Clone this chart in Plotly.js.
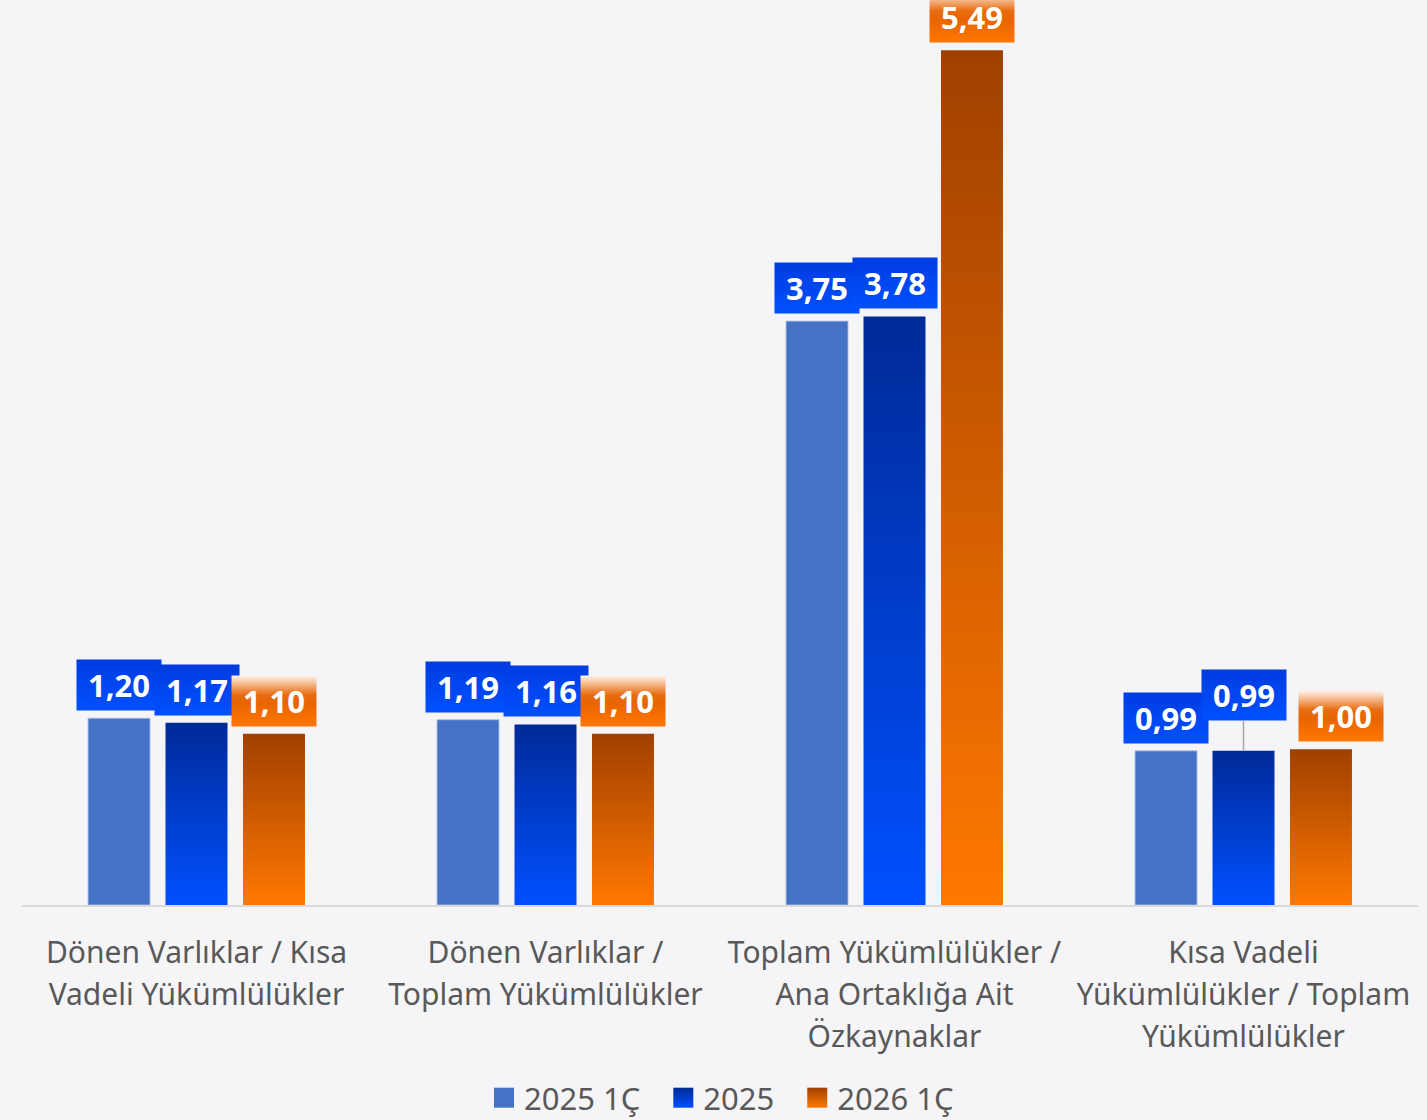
<!DOCTYPE html>
<html>
<head>
<meta charset="utf-8">
<script src="https://cdn.plot.ly/plotly-3.0.1.min.js"></script>
<style>
  html, body { margin: 0; padding: 0; background: #f5f5f7; }
  #chart { width: 1427px; height: 1120px; }
</style>
</head>
<body>
<div id="chart"></div>
<script>
// ---- data ----
const categories = [
  "Dönen Varlıklar / Kısa<br>Vadeli Yükümlülükler",
  "Dönen Varlıklar /<br>Toplam Yükümlülükler",
  "Toplam Yükümlülükler /<br>Ana Ortaklığa Ait<br>Özkaynaklar",
  "Kısa Vadeli<br>Yükümlülükler / Toplam<br>Yükümlülükler"
];
const seriesNames = ["2025 1Ç", "2025", "2026 1Ç"];
const values2025Q1 = [1.20, 1.19, 3.75, 0.99];
const values2025 = [1.17, 1.16, 3.78, 0.99];
const values2026Q1 = [1.10, 1.10, 5.49, 1.00];

// ---- styles ----
const seriesValues = [values2025Q1, values2025, values2026Q1];
const baseColors = ["#4472c4", "#0040e0", "#e06000"];
const labelGrad = ["lblBlue", "lblBlue", "lblOrange"];
const barGrad = [null, "gBlue", "gOrange"];
const groupPitchPx = 77.5;
const legendExtraGap = 18;
const legendShift = -10;
const tickLineSpacing = 1.4;
// special label adjustments: [seriesIndex, categoryIndex] -> options
const labelTweaks = { "1_3": { ay: -30 }, "2_3": { dx: 20 } };

const fmt = v => v.toFixed(2).replace(".", ",");

const traces = seriesValues.map((vals, s) => ({
  type: "bar",
  name: seriesNames[s],
  x: categories,
  y: vals,
  marker: {
    color: baseColors[s],
    line: s === 0 ? { color: "rgba(170,190,235,0.9)", width: 1 } : { width: 0 }
  },
  hoverinfo: "none"
}));

const annotations = [];
const annGrads = [];
seriesValues.forEach((vals, s) => {
  vals.forEach((v, c) => {
    const tw = labelTweaks[s + "_" + c] || {};
    const a = {
      x: categories[c],
      y: v,
      xref: "x",
      yref: "y",
      text: "<b>" + fmt(v) + "</b>",
      font: { family: "Noto Sans, sans-serif", size: 31, color: "#ffffff" },
      bgcolor: s === 2 ? "#e86a00" : "#0046f0",
      borderpad: 7,
      width: 70,
      height: 36,
      xanchor: "center",
      yanchor: "bottom",
      xshift: (s - 1) * groupPitchPx + (tw.dx || 0),
      showarrow: false,
      yshift: 7
    };
    if (tw.ay) {
      a.showarrow = true;
      a.ax = 0;
      a.ay = tw.ay;
      a.arrowhead = 0;
      a.arrowwidth = 1.5;
      a.arrowcolor = "#a6a6a6";
      a.standoff = 0;
      a.yshift = 0;
    }
    annGrads.push(labelGrad[s]);
    annotations.push(a);
  });
});

const layout = {
  width: 1427,
  height: 1120,
  paper_bgcolor: "#f5f5f7",
  plot_bgcolor: "#f5f5f7",
  margin: { l: 22, r: 9, t: 20, b: 215, autoexpand: false },
  barmode: "group",
  bargap: 0.334,
  bargroupgap: 0.2,
  showlegend: true,
  legend: {
    orientation: "h",
    x: 0.5, xanchor: "center", xref: "container",
    y: 0.0196, yanchor: "middle", yref: "container",
    font: { family: "Noto Sans, sans-serif", size: 31, color: "#595959" },
    bgcolor: "rgba(0,0,0,0)",
    traceorder: "normal"
  },
  xaxis: {
    type: "category",
    showline: true,
    linecolor: "#d9d9d9",
    linewidth: 2,
    showgrid: false,
    ticks: "",
    automargin: false,
    ticklabelstandoff: 20,
    tickfont: { family: "Noto Sans, sans-serif", size: 30, color: "#595959" },
    fixedrange: true
  },
  yaxis: {
    range: [0, 5.684],
    showgrid: false,
    zeroline: false,
    showticklabels: false,
    automargin: false,
    fixedrange: true
  },
  annotations: annotations,
  font: { family: "Noto Sans, sans-serif" }
};

function addDefs() {
  const svgNS = "http://www.w3.org/2000/svg";
  const svg = document.querySelector("#chart svg.main-svg");
  let defs = svg.querySelector("defs");
  if (!defs) { defs = document.createElementNS(svgNS, "defs"); svg.insertBefore(defs, svg.firstChild); }
  const grads = {
    gBlue: [[0, "#002a98"], [1, "#0050ff"]],
    gOrange: [[0, "#a04000"], [1, "#ff7800"]],
    lblBlue: [[0, "#003ce0"], [1, "#0050ff"]],
    lblOrange: [[0, "#fff4ec"], [0.38, "#e86c10"], [0.55, "#e86400"], [1, "#ff7800"]]
  };
  Object.keys(grads).forEach(id => {
    const g = document.createElementNS(svgNS, "linearGradient");
    g.setAttribute("id", id);
    g.setAttribute("x1", "0"); g.setAttribute("y1", "0");
    g.setAttribute("x2", "0"); g.setAttribute("y2", "1");
    grads[id].forEach(([o, c]) => {
      const st = document.createElementNS(svgNS, "stop");
      st.setAttribute("offset", o);
      st.setAttribute("stop-color", c);
      g.appendChild(st);
    });
    defs.appendChild(g);
  });
}

function parseTranslate(el) {
  const t = el.getAttribute("transform") || "";
  const m = t.match(/translate\(\s*([-\d.]+)[ ,]+([-\d.]+)\s*\)/);
  return m ? [parseFloat(m[1]), parseFloat(m[2])] : [0, 0];
}

function applyStyles() {
  addDefs();
  // bars
  const barTraces = document.querySelectorAll("#chart .barlayer .trace.bars");
  barTraces.forEach((t, s) => {
    if (!barGrad[s]) return;
    t.querySelectorAll("path").forEach(p => { p.style.fill = "url(#" + barGrad[s] + ")"; });
  });
  // legend symbols + spacing
  const leg = document.querySelector("#chart .legend");
  if (leg) {
    leg.querySelectorAll("[clip-path]").forEach(el => el.removeAttribute("clip-path"));
  }
  const legTraces = document.querySelectorAll("#chart .legend .traces");
  legTraces.forEach((t, s) => {
    const p = t.querySelector(".legendpoints path");
    if (p) {
      p.setAttribute("d", "M10,10H-10V-10H10Z");
      p.style.strokeWidth = "0";
      if (barGrad[s]) p.style.fill = "url(#" + barGrad[s] + ")";
    }
    const [x, y] = parseTranslate(t);
    t.setAttribute("transform", "translate(" + (x + s * legendExtraGap) + "," + y + ")");
  });
  if (leg) {
    const [lx, ly] = parseTranslate(leg);
    leg.setAttribute("transform", "translate(" + (lx + legendShift) + "," + ly + ")");
  }
  // annotation backgrounds
  const anns = document.querySelectorAll("#chart .annotation");
  anns.forEach((a, i) => {
    const r = a.querySelector("rect.bg");
    if (r && annGrads[i]) r.style.fill = "url(#" + annGrads[i] + ")";
  });
  // tick label line spacing (dy is absolute per line: n * 1.3em)
  document.querySelectorAll("#chart .xtick text tspan.line").forEach(ts => {
    const dy = parseFloat(ts.getAttribute("dy"));
    if (dy > 0) ts.setAttribute("dy", (dy / 1.3 * tickLineSpacing) + "em");
  });
}

Plotly.newPlot("chart", traces, layout, { staticPlot: true, displayModeBar: false }).then(applyStyles);
</script>
</body>
</html>
